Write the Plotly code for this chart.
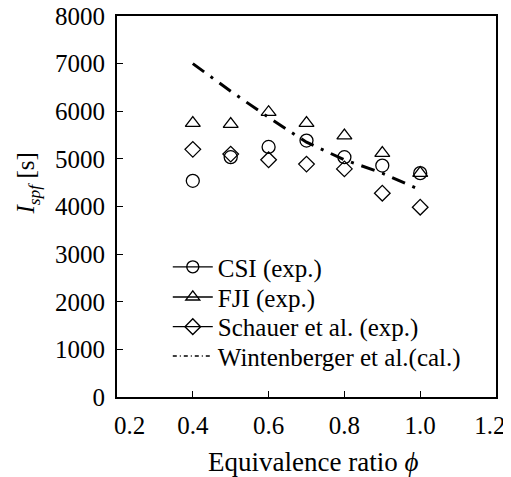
import plotly.graph_objects as go

phi = [0.4, 0.5, 0.6, 0.7, 0.8, 0.9, 1.0]
csi = [4540, 5035, 5250, 5385, 5035, 4860, 4700]
fji = [5750, 5730, 5980, 5750, 5490, 5120, 4700]
schauer = [5200, 5100, 4980, 4890, 4790, 4280, 3985]
wint = [7000, 6420, 5870, 5350, 4980, 4700, 4350]

names = ["CSI (exp.)", "FJI (exp.)", "Schauer et al. (exp.)", "Wintenberger et al.(cal.)"]
x_ticks = [0.2, 0.4, 0.6, 0.8, 1.0, 1.2]
x_labels = ["\u2002\u20020.2", "0.4", "0.6", "0.8", "1.0", "1.2\u2002"]
y_ticks = list(range(0, 8001, 1000))

font = "Liberation Serif, Times New Roman, serif"
fig = go.Figure()

fig.add_trace(go.Scatter(x=phi, y=csi, mode="markers", showlegend=False,
                         marker=dict(symbol="circle-open", size=13, color="black", line=dict(width=1.3))))
fig.add_trace(go.Scatter(x=phi, y=fji, mode="markers", showlegend=False,
                         marker=dict(symbol="triangle-up-open", size=13, color="black", line=dict(width=1.3))))
fig.add_trace(go.Scatter(x=phi, y=schauer, mode="markers", showlegend=False,
                         marker=dict(symbol="diamond-open", size=12, color="black", line=dict(width=1.3))))
fig.add_trace(go.Scatter(x=phi, y=wint, mode="lines", showlegend=False,
                         line=dict(color="black", width=3, dash="14px,8px,3px,8px")))

# legend-only entries, each in its own legend for exact spacing
legends = ["legend", "legend2", "legend3", "legend4"]
for nm, sym, lg in zip(names[:3], ["circle-open", "triangle-up-open", "diamond-open"], legends[:3]):
    fig.add_trace(go.Scatter(x=[None], y=[None], mode="lines+markers", name=nm, legend=lg,
                             line=dict(color="black", width=1.4),
                             marker=dict(symbol=sym, size=12, color="black", line=dict(width=1.4))))
fig.add_trace(go.Scatter(x=[None], y=[None], mode="lines", name=names[3], legend=legends[3],
                         line=dict(color="black", width=1.3, dash="4px,3px,1px,3px")))

leg_y = [0.341, 0.262, 0.184, 0.107]
leg_common = dict(x=0.134, xanchor="left", yanchor="middle", bgcolor="rgba(0,0,0,0)",
                  font=dict(size=25), itemwidth=40, borderwidth=0)
leg_layout = {lg: dict(y=yy, **leg_common) for lg, yy in zip(legends, leg_y)}

# the page body has an 8px margin, so the figure is drawn 8px in from the window corner
fig.update_layout(
    width=503, height=469,
    margin=dict(l=109, r=15, t=8, b=80, autoexpand=False),
    paper_bgcolor="white", plot_bgcolor="white",
    font=dict(family=font, color="black", size=25),
    xaxis=dict(range=[0.2, 1.2], tickvals=x_ticks, ticktext=x_labels, automargin=False,
               ticks="inside", ticklen=6, tickwidth=1.3, tickcolor="black",
               showline=True, linecolor="black", linewidth=1.8, mirror=True,
               showgrid=False, zeroline=False, ticklabelstandoff=5, ticklabeloverflow="allow"),
    yaxis=dict(range=[0, 8000], tickvals=y_ticks, automargin=False,
               ticks="inside", ticklen=6, tickwidth=1.3, tickcolor="black",
               showline=True, linecolor="black", linewidth=1.8, mirror=True,
               showgrid=False, zeroline=False, ticklabelstandoff=5, ticklabeloverflow="allow"),
    annotations=[
        dict(text="<i>I</i><sub><i>spf</i></sub> [s]", xref="paper", yref="paper",
             x=-0.235, y=0.56, textangle=-90, showarrow=False,
             xanchor="center", yanchor="middle", font=dict(size=25)),
        dict(text="Equivalence ratio <i>ϕ</i>", xref="paper", yref="paper",
             x=0.517, y=-0.171, showarrow=False,
             xanchor="center", yanchor="middle", font=dict(size=27)),
    ],
    **leg_layout,
)

fig.write_html("out.html")
